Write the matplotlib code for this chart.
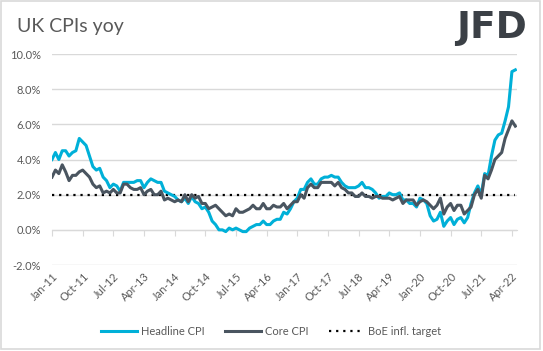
import matplotlib
matplotlib.use("Agg")
import matplotlib.pyplot as plt
from matplotlib.patches import Rectangle
import numpy as np
import pandas as pd

# UK CPI y/y, monthly Jan 2011 - May 2022
headline = [
    4.0, 4.4, 4.0, 4.5, 4.5, 4.2, 4.4, 4.5, 5.2, 5.0, 4.8, 4.2,
    3.6, 3.4, 3.5, 3.0, 2.8, 2.4, 2.6, 2.5, 2.2, 2.7, 2.7, 2.7,
    2.7, 2.8, 2.8, 2.4, 2.7, 2.9, 2.8, 2.7, 2.7, 2.2, 2.1, 2.0,
    1.9, 1.7, 1.6, 1.8, 1.5, 1.9, 1.6, 1.5, 1.2, 1.3, 1.0, 0.5,
    0.3, 0.0, 0.0, -0.1, 0.1, 0.0, 0.1, 0.0, -0.1, -0.1, 0.1, 0.2,
    0.3, 0.3, 0.5, 0.3, 0.3, 0.5, 0.6, 0.6, 1.0, 0.9, 1.2, 1.6,
    1.8, 2.3, 2.3, 2.7, 2.9, 2.6, 2.6, 2.9, 3.0, 3.0, 3.1, 3.0,
    3.0, 2.7, 2.5, 2.4, 2.4, 2.4, 2.5, 2.7, 2.4, 2.4, 2.3, 2.1,
    1.8, 1.9, 1.9, 2.1, 2.0, 2.0, 2.1, 1.7, 1.7, 1.5, 1.5, 1.3,
    1.8, 1.7, 1.5, 0.8, 0.5, 0.6, 1.0, 0.2, 0.5, 0.7, 0.3, 0.6,
    0.7, 0.4, 0.7, 1.5, 2.1, 2.5, 2.0, 3.2, 3.1, 4.2, 5.1, 5.4,
    5.5, 6.2, 7.0, 9.0, 9.1,
]
core = [
    3.0, 3.4, 3.2, 3.7, 3.3, 2.8, 3.1, 3.1, 3.3, 3.4, 3.2, 3.0,
    2.6, 2.4, 2.5, 2.1, 2.2, 2.1, 2.3, 2.1, 2.1, 2.6, 2.6, 2.4,
    2.3, 2.3, 2.4, 2.0, 2.2, 2.3, 2.0, 2.0, 2.2, 1.7, 1.8, 1.7,
    1.6, 1.7, 1.6, 2.0, 1.6, 2.0, 1.8, 1.9, 1.5, 1.5, 1.2, 1.3,
    1.4, 1.2, 1.0, 0.8, 0.9, 0.8, 1.2, 1.0, 1.0, 1.1, 1.2, 1.4,
    1.2, 1.2, 1.5, 1.2, 1.2, 1.4, 1.3, 1.3, 1.5, 1.2, 1.4, 1.6,
    1.6, 2.0, 1.8, 2.4, 2.6, 2.4, 2.4, 2.7, 2.7, 2.7, 2.7, 2.5,
    2.7, 2.4, 2.3, 2.1, 2.1, 1.9, 1.9, 2.1, 1.9, 1.9, 1.8, 1.9,
    1.9, 1.8, 1.8, 1.8, 1.7, 1.8, 1.9, 1.5, 1.7, 1.7, 1.7, 1.4,
    1.6, 1.7, 1.6, 1.4, 1.2, 1.4, 1.8, 0.9, 1.3, 1.5, 1.1, 1.4,
    1.4, 0.9, 1.1, 1.3, 2.0, 2.3, 1.8, 3.1, 2.9, 3.4, 4.0, 4.2,
    4.4, 5.2, 5.7, 6.2, 5.9,
]
boe_target = 2.0
dates = pd.date_range("2011-01-01", periods=len(headline), freq="MS")
tick_every = 9
y_ticks = [-2, 0, 2, 4, 6, 8, 10]

plt.rcParams["font.family"] = ["Lato", "DejaVu Sans"]
txt_col = "#595959"
grid_col = "#d9d9d9"

fig = plt.figure(figsize=(5.43, 3.51), dpi=100)
fig.patch.set_facecolor("white")
fig.add_artist(Rectangle((0.002, 0.006), 0.993, 0.99, transform=fig.transFigure,
                         fill=False, edgecolor=grid_col, linewidth=1.2))

ax = fig.add_axes([0.0958, 0.245, 0.857, 0.601])
x = np.arange(len(headline))
ax.plot(x, headline, color="#00b0d8", linewidth=2.2, label="Headline CPI", zorder=3)
ax.plot(x, core, color="#4a5560", linewidth=2.2, label="Core CPI", zorder=4)
ax.plot(x, [boe_target] * len(x), color="black", linestyle=(0, (1, 2.2)),
        linewidth=1.6, label="BoE infl. target", zorder=2)

ax.set_ylim(-2, 10)
ax.set_xlim(0, len(x) - 0.4)
ax.set_yticks(y_ticks)
ax.set_yticklabels([f"{v:.1f}%" for v in y_ticks], color=txt_col, fontsize=8)
ax.grid(axis="y", color=grid_col, linewidth=1)
ax.set_axisbelow(True)
for s in ax.spines.values():
    s.set_visible(False)
ax.tick_params(axis="y", length=0, pad=8)

ticks = x[::tick_every]
ax.set_xticks(ticks)
ax.set_xticklabels([dates[i].strftime("%b-%y") for i in ticks], rotation=45,
                   ha="right", rotation_mode="anchor", color=txt_col, fontsize=8)
ax.tick_params(axis="x", length=0, pad=4)

# zero line with tick marks (category axis crossing at 0)
sec = ax.secondary_xaxis(2 / 12)
sec.set_xticks(ticks)
sec.tick_params(axis="x", length=4, color=grid_col, labelbottom=False)
sec.spines["bottom"].set_color(grid_col)

fig.text(0.032, 0.925, "UK CPIs yoy", fontsize=14, color=txt_col, va="center")
fig.text(0.905, 0.92, "JFD", fontsize=27, fontweight="heavy", color="#3b4046",
         ha="center", va="center", family=["DejaVu Sans"])

fig.legend(loc="center", bbox_to_anchor=(0.5, 0.055), ncol=3, frameon=False,
           fontsize=8, labelcolor=txt_col, handlelength=3.2, columnspacing=1.8,
           handletextpad=0.4)

fig.savefig("out.png", dpi=100)
